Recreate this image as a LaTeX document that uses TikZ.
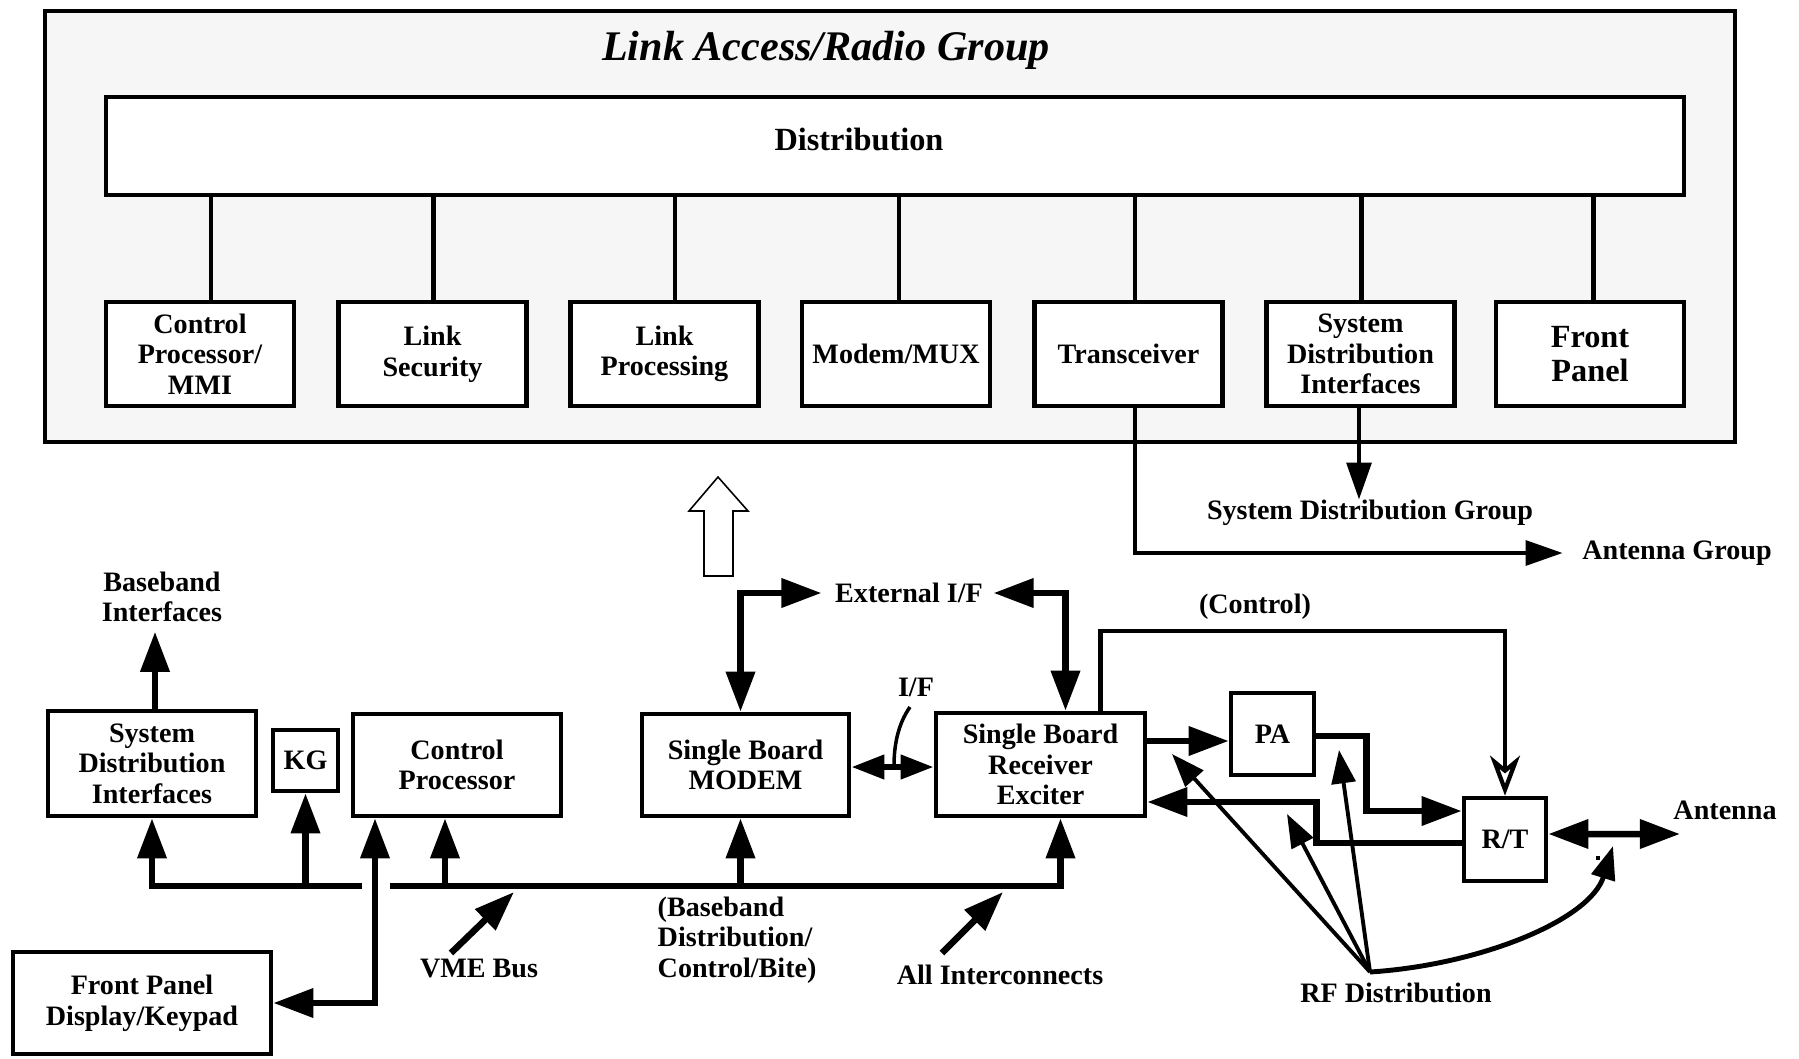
\documentclass[tikz,border=0pt]{standalone}
\usepackage{fontspec}
\setmainfont{Liberation Serif}
\usetikzlibrary{arrows.meta}
\definecolor{panel}{RGB}{246,246,246}

\begin{document}
\begin{tikzpicture}[x=0.1mm,y=-0.1mm,
  txt/.style={font=\bfseries\fontsize{8}{8.7}\selectfont, align=center, inner sep=0pt},
  box/.style={txt, draw, line width=1.3pt, fill=white},
  unit/.style={box, minimum width=18.8mm, minimum height=10.4mm},
  wire/.style={line width=1.2pt},
  fat/.style={line width=1.85pt},
  bigtip/.style={-{Triangle[length=11.4pt,width=8pt]}},
  twotip/.style={{Triangle[length=11.4pt,width=8pt]}-{Triangle[length=11.4pt,width=8pt]}},
  smalltwotip/.style={{Triangle[length=9.4pt,width=6.6pt]}-{Triangle[length=9.4pt,width=6.6pt]}},
  midtip/.style={-{Triangle[length=9.5pt,width=6.8pt]}},
  thintip/.style={-{Triangle[length=10.5pt,width=7pt]}},
  opentip/.style={-{Stealth[fill=white,length=11.4pt,width=8.5pt,inset=3.5pt]}}
]
\useasboundingbox (0,0) rectangle (1799,1058);

% ---------- Link Access/Radio Group ----------
\node[draw, line width=1.4pt, fill=panel, inner sep=0pt,
      minimum width=169mm, minimum height=43.1mm] (lar) at (890,226.5) {};
\node[font=\bfseries\itshape\fontsize{12}{14}\selectfont, inner sep=0pt] (title) at (826,50) {Link Access/Radio Group};

\node[box, minimum width=157.8mm, minimum height=9.8mm] (dist) at (895,146) {};
\node[txt, font=\bfseries\fontsize{9.2}{10}\selectfont] (distname) at (859,139) {Distribution};

\node[unit] (b1) at (200,354)    {Control\\Processor/\\MMI};
\node[unit] (b2) at (432.5,354)  {Link\\Security};
\node[unit] (b3) at (664.5,354)  {Link\\Processing};
\node[unit] (b4) at (896,354)    {Modem/MUX};
\node[unit] (b5) at (1128.5,354) {Transceiver};
\node[unit] (b6) at (1360.5,354) {System\\Distribution\\Interfaces};
\node[unit, font=\bfseries\fontsize{9.2}{9.8}\selectfont] (b7) at (1590,354) {Front\\Panel};

% drops from the distribution bus
\foreach \b/\dx in {b1/1.1mm, b2/0.1mm, b3/1.05mm, b4/0.3mm, b5/0.65mm, b6/0.1mm, b7/0.35mm}{
  \path ([xshift=\dx]\b.north) coordinate (drop);
  \draw[wire] (drop) -- (drop |- dist.south);
}

% outputs of the group
\node[txt] (sdg) at (1370,513) {System Distribution Group};
\node[txt] (agrp) at (1677,553) {Antenna Group};
\path ([xshift=-0.15mm]b6.south) coordinate (sdgtop);
\draw[wire, thintip] (sdgtop) -- (sdgtop |- sdg.north);
\draw[wire, thintip] ([xshift=0.65mm]b5.south) |- ([xshift=-1.9mm]agrp.west);

% hollow block arrow
\draw[line width=0.45pt, fill=white]
  (704,576) -- (704,511) -- (689,511) -- (718,477) -- (748,511) -- (733,511) -- (733,576) -- cycle;

% ---------- equipment level ----------
\node[box, minimum width=20.8mm, minimum height=10.5mm] (sdi)   at (152,763.5)  {System\\Distribution\\Interfaces};
\node[box, minimum width=6.5mm,  minimum height=6.1mm]  (kg)    at (305.5,760.5) {KG};
\node[box, minimum width=20.8mm, minimum height=10.2mm] (cp)    at (457,765)    {Control\\Processor};
\node[box, minimum width=20.7mm, minimum height=10.2mm] (modem) at (745.5,765)  {Single Board\\MODEM};
\node[box, minimum width=20.9mm, minimum height=10.3mm] (sbre)  at (1040.5,764.5) {Single Board\\Receiver\\Exciter};
\node[box, minimum width=8.3mm,  minimum height=8.2mm]  (pa)    at (1272.5,734) {PA};
\node[box, minimum width=8.2mm,  minimum height=8.3mm]  (rt)    at (1505,839.5) {R/T};
\node[box, minimum width=25.8mm, minimum height=10.2mm] (fp)    at (142,1003)   {Front Panel\\Display/Keypad};

\node[txt] (bbi)   at (162,597)  {Baseband\\Interfaces};
\node[txt] (ext)   at (909,593)  {External I/F};
\node[txt] (ctl)   at (1255,607) {(Control)};
\node[txt] (iflbl) at (916,687)  {I/F};
\node[txt] (ant)   at (1725,810) {Antenna};
\node[txt] (vme)   at (479,968)  {VME Bus};
\node[txt, align=left, anchor=west] (bbd) at (657,940) {(Baseband\\Distribution/\\Control/Bite)};
\node[txt] (allic) at (1000,975) {All Interconnects};
\node[txt] (rfd)   at (1396,993) {RF Distribution};

% VME bus
\coordinate (busL) at (152,886);
\coordinate (gapL) at (362,886);
\coordinate (gapR) at (390,886);
\draw[fat, bigtip] (gapL) -| (sdi.south);
\draw[fat, bigtip] (kg.south |- busL) -- (kg.south);
\draw[fat, bigtip] (gapR) -| ([xshift=2mm]sbre.south);
\path ([xshift=-1.2mm]cp.south) coordinate (cpin);
\draw[fat, bigtip] (cpin |- busL) -- (cpin);
\path ([xshift=-0.5mm]modem.south) coordinate (modin);
\draw[fat, bigtip] (modin |- busL) -- (modin);
\draw[fat, twotip] (fp.east) -| ([xshift=-8.2mm]cp.south);
\draw[fat, bigtip] ([xshift=0.3mm]sdi.north) -- ++(0,-77);

% pointers to the bus
\coordinate (vmeS) at (451,953);  \coordinate (vmeT) at (514,892);
\draw[fat, bigtip] (vmeS) -- (vmeT);
\coordinate (aiS) at (942,953);   \coordinate (aiT) at (1003,892);
\draw[fat, bigtip] (aiS) -- (aiT);

% external interfaces
\draw[fat, twotip] ([xshift=-0.5mm]modem.north) |- ([xshift=-1.3mm]ext.west);
\draw[fat, twotip] ([xshift=2.5mm]sbre.north) |- ([xshift=1mm]ext.east);

% modem to receiver/exciter
\path ([yshift=-0.2mm]modem.east) coordinate (ifl);
\draw[fat, smalltwotip] (ifl) -- (ifl -| sbre.west);
\draw[line width=1pt] (910,707) .. controls (898,724) and (894,745) .. (894,766);

% control line
\draw[wire, opentip] ([xshift=6mm]sbre.north) -- ++(0,-80) -| (rt.north);

% RF chain
\path ([yshift=2.35mm]sbre.east) coordinate (txo);
\draw[fat, bigtip] (txo) -- (txo -| pa.west);
\draw[fat, bigtip] ([yshift=-0.2mm]pa.east) -- ++(50,0) |- ([yshift=2.85mm]rt.west);
\draw[fat, bigtip] ([yshift=-0.35mm]rt.west) -- ++(-145,0) |- ([yshift=-3.75mm]sbre.east);
\coordinate (antend) at (1680,834);
\draw[fat, twotip] ([yshift=0.55mm]rt.east) -- (antend);
\fill (1596,856) rectangle (1600,860);

% RF distribution
\coordinate (rf) at (1370,972);
\coordinate (rfa) at (1172,754);
\coordinate (rfb) at (1339,750);
\coordinate (rfc) at (1287,814);
\coordinate (rfd) at (1613,846);
\draw[line width=1.1pt, midtip] (rf) -- (rfa);
\draw[line width=1.1pt, midtip] (rf) -- (rfb);
\draw[line width=1.1pt, midtip] (rf) -- (rfc);
\draw[line width=1.4pt, midtip] (rf) .. controls (1480,965) and (1590,920) .. (rfd);
\end{tikzpicture}
\end{document}
